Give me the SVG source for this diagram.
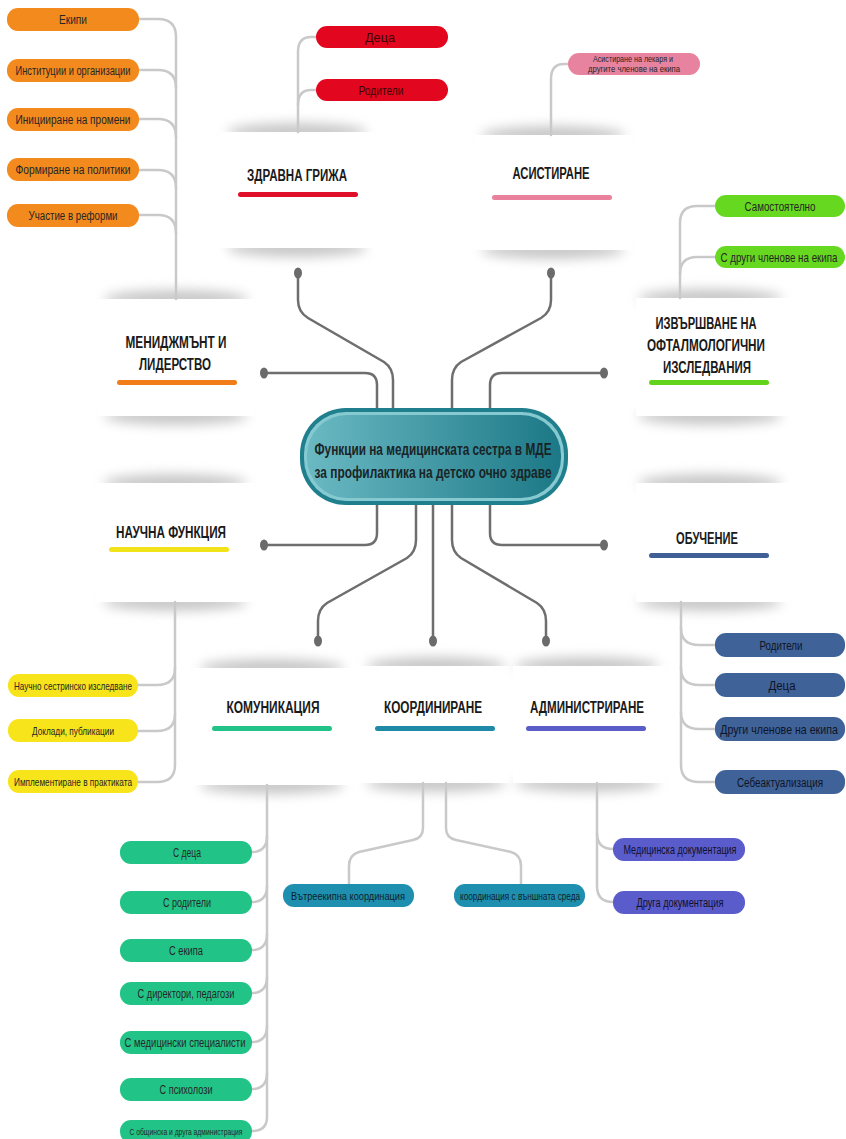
<svg xmlns="http://www.w3.org/2000/svg" width="846" height="1139" viewBox="0 0 846 1139">
<defs>
<style>
.pt{font-family:"Liberation Sans",Arial,sans-serif;font-size:12.5px;fill:#262626;text-anchor:middle}
.ps{font-family:"Liberation Sans",Arial,sans-serif;font-size:9px;fill:#262626;text-anchor:middle}
.tt{font-family:"Liberation Sans",Arial,sans-serif;font-size:16px;font-weight:bold;fill:#1a1a1a;text-anchor:middle}
.ct{font-family:"Liberation Sans",Arial,sans-serif;font-size:17px;font-weight:bold;fill:#1a2426;text-anchor:middle}
.card{fill:#ffffff}
.shade{fill:#9a9a9a;opacity:.55;filter:url(#blur)}
.leaf{fill:none;stroke:#c9c9c9;stroke-width:2.5;stroke-linecap:round}
.main{fill:none;stroke:#6e6e6e;stroke-width:2.5;stroke-linecap:round}
.dot{fill:#6b6b6b}
</style>
<filter id="blur" x="-20%" y="-100%" width="140%" height="300%"><feGaussianBlur stdDeviation="6"/></filter>
<linearGradient id="cg" x1="0" y1="0" x2="1" y2="0">
<stop offset="0" stop-color="#6ab9c3"/>
<stop offset="1" stop-color="#1c7886"/>
</linearGradient>
</defs>
<rect width="846" height="1139" fill="#ffffff"/>

<!-- category cards -->
<g id="n-zdravna">
<ellipse class="shade" cx="297" cy="132" rx="70" ry="9"/>
<ellipse class="shade" cx="297" cy="248" rx="70" ry="9"/>
<rect class="card" x="220" y="132" width="155" height="116"/>
<text class="tt" x="297" y="181" textLength="100" lengthAdjust="spacingAndGlyphs">ЗДРАВНА ГРИЖА</text>
<rect x="238" y="192" width="120" height="5" rx="2.5" fill="#e0102a"/>
</g>
<g id="n-asist">
<ellipse class="shade" cx="553" cy="135" rx="72" ry="9"/>
<ellipse class="shade" cx="553" cy="250" rx="72" ry="9"/>
<rect class="card" x="474" y="135" width="158" height="115"/>
<text class="tt" x="551" y="179" textLength="77" lengthAdjust="spacingAndGlyphs">АСИСТИРАНЕ</text>
<rect x="492" y="195" width="120" height="5" rx="2.5" fill="#e9809c"/>
</g>
<g id="n-menidzh">
<ellipse class="shade" cx="176" cy="299" rx="72" ry="9"/>
<ellipse class="shade" cx="176" cy="416" rx="72" ry="9"/>
<rect class="card" x="98" y="299" width="156" height="117"/>
<text class="tt" x="176" y="348" textLength="101" lengthAdjust="spacingAndGlyphs">МЕНИДЖМЪНТ И</text>
<text class="tt" x="175" y="370" textLength="72" lengthAdjust="spacingAndGlyphs">ЛИДЕРСТВО</text>
<rect x="117" y="380" width="120" height="5" rx="2.5" fill="#f07d1a"/>
</g>
<g id="n-izvarsh">
<ellipse class="shade" cx="710" cy="298" rx="72" ry="9"/>
<ellipse class="shade" cx="710" cy="416" rx="72" ry="9"/>
<rect class="card" x="636" y="298" width="156" height="118"/>
<text class="tt" x="706" y="329" textLength="101" lengthAdjust="spacingAndGlyphs">ИЗВЪРШВАНЕ НА</text>
<text class="tt" x="706" y="351" textLength="118" lengthAdjust="spacingAndGlyphs">ОФТАЛМОЛОГИЧНИ</text>
<text class="tt" x="707" y="373" textLength="88" lengthAdjust="spacingAndGlyphs">ИЗСЛЕДВАНИЯ</text>
<rect x="649" y="380" width="120" height="5" rx="2.5" fill="#62d31c"/>
</g>
<g id="n-nauchna">
<ellipse class="shade" cx="175" cy="483" rx="72" ry="9"/>
<ellipse class="shade" cx="175" cy="602" rx="72" ry="9"/>
<rect class="card" x="96" y="483" width="158" height="119"/>
<text class="tt" x="171" y="538" textLength="110" lengthAdjust="spacingAndGlyphs">НАУЧНА ФУНКЦИЯ</text>
<rect x="109" y="547" width="120" height="5" rx="2.5" fill="#f1e21a"/>
</g>
<g id="n-obuchenie">
<ellipse class="shade" cx="710" cy="483" rx="72" ry="9"/>
<ellipse class="shade" cx="710" cy="602" rx="72" ry="9"/>
<rect class="card" x="636" y="483" width="156" height="119"/>
<text class="tt" x="707" y="544" textLength="62" lengthAdjust="spacingAndGlyphs">ОБУЧЕНИЕ</text>
<rect x="649" y="553" width="120" height="5" rx="2.5" fill="#3f5f96"/>
</g>
<g id="n-komun">
<ellipse class="shade" cx="272" cy="668" rx="72" ry="9"/>
<ellipse class="shade" cx="272" cy="785" rx="72" ry="9"/>
<rect class="card" x="193" y="668" width="160" height="117"/>
<text class="tt" x="273" y="713" textLength="93" lengthAdjust="spacingAndGlyphs">КОМУНИКАЦИЯ</text>
<rect x="212" y="726" width="120" height="5" rx="2.5" fill="#22c388"/>
</g>
<g id="n-koord">
<ellipse class="shade" cx="436" cy="666" rx="70" ry="9"/>
<ellipse class="shade" cx="436" cy="783" rx="70" ry="9"/>
<rect class="card" x="353" y="666" width="160" height="117"/>
<text class="tt" x="433" y="713" textLength="98" lengthAdjust="spacingAndGlyphs">КООРДИНИРАНЕ</text>
<rect x="375" y="726" width="120" height="5" rx="2.5" fill="#1e8aa8"/>
</g>
<g id="n-admin">
<ellipse class="shade" cx="587" cy="666" rx="72" ry="9"/>
<ellipse class="shade" cx="587" cy="783" rx="72" ry="9"/>
<rect class="card" x="513" y="666" width="152" height="117"/>
<text class="tt" x="587" y="713" textLength="114" lengthAdjust="spacingAndGlyphs">АДМИНИСТРИРАНЕ</text>
<rect x="526" y="726" width="120" height="5" rx="2.5" fill="#5a5cc8"/>
</g>

<!-- connectors -->
<g id="connectors">
<path class="main" d="M298,273 V300 Q298,312 308,318 L384,362 Q393,368 393,380 V408"/>
<path class="main" d="M551,273 V300 Q551,312 541,318 L461,362 Q452,368 452,380 V408"/>
<path class="main" d="M263,373 H365 Q377,373 377,385 V408"/>
<path class="main" d="M604,373 H502 Q490,373 490,385 V408"/>
<path class="main" d="M263,545 H365 Q377,545 377,533 V505"/>
<path class="main" d="M604,545 H502 Q490,545 490,533 V505"/>
<path class="main" d="M416,505 V540 Q416,552 407,558 L327,603 Q318,609 318,621 V640"/>
<path class="main" d="M433,505 V640"/>
<path class="main" d="M452,505 V540 Q452,552 461,558 L537,603 Q546,609 546,621 V640"/>
<ellipse class="dot" cx="298" cy="273" rx="4" ry="5.5"/>
<ellipse class="dot" cx="551" cy="273" rx="4" ry="5.5"/>
<ellipse class="dot" cx="264" cy="373" rx="4" ry="5.5"/>
<ellipse class="dot" cx="604" cy="373" rx="4" ry="5.5"/>
<ellipse class="dot" cx="264" cy="545" rx="4" ry="5.5"/>
<ellipse class="dot" cx="604" cy="545" rx="4" ry="5.5"/>
<ellipse class="dot" cx="318" cy="641" rx="4" ry="5.5"/>
<ellipse class="dot" cx="433" cy="641" rx="4" ry="5.5"/>
<ellipse class="dot" cx="546" cy="641" rx="4" ry="5.5"/>
<path class="leaf" d="M139,19 H158 Q176,19 176,37 V299"/>
<path class="leaf" d="M139,70 H158 Q176,70 176,88"/>
<path class="leaf" d="M139,119 H158 Q176,119 176,137"/>
<path class="leaf" d="M139,170 H158 Q176,170 176,188"/>
<path class="leaf" d="M139,215 H158 Q176,215 176,233"/>
<path class="leaf" d="M316,37 H311 Q298,37 298,52 V132"/>
<path class="leaf" d="M316,90 H311 Q298,90 298,105"/>
<path class="leaf" d="M568,64 H564 Q551,64 551,79 V135"/>
<path class="leaf" d="M715,206 H697 Q680,206 680,223 V298"/>
<path class="leaf" d="M715,257 H697 Q680,257 680,274"/>
<path class="leaf" d="M138,685 H157 Q175,685 175,668"/>
<path class="leaf" d="M138,731 H157 Q175,731 175,714"/>
<path class="leaf" d="M138,782 H157 Q175,782 175,765 V602"/>
<path class="leaf" d="M715,645 H699 Q681,645 681,628"/>
<path class="leaf" d="M715,685 H699 Q681,685 681,668"/>
<path class="leaf" d="M715,729 H699 Q681,729 681,712"/>
<path class="leaf" d="M715,782 H699 Q681,782 681,765 V602"/>
<path class="leaf" d="M267,785 V1117 Q267,1131 252,1131"/>
<path class="leaf" d="M252,852 Q267,852 267,836"/>
<path class="leaf" d="M252,902 Q267,902 267,886"/>
<path class="leaf" d="M252,950 Q267,950 267,934"/>
<path class="leaf" d="M252,993 Q267,993 267,977"/>
<path class="leaf" d="M252,1042 Q267,1042 267,1026"/>
<path class="leaf" d="M252,1089 Q267,1089 267,1073"/>
<path class="leaf" d="M423,783 V828 Q423,838 413,840 L359,852 Q349,855 349,866 V884"/>
<path class="leaf" d="M446,783 V828 Q446,838 456,840 L511,852 Q521,855 521,866 V884"/>
<path class="leaf" d="M597,783 V886 Q597,902 613,902"/>
<path class="leaf" d="M613,849 Q597,849 597,833"/>
</g>

<!-- center -->
<g id="n-center">
<rect x="300" y="408" width="268" height="97" rx="46" fill="#1f7f8d"/>
<rect x="304" y="412" width="260" height="89" rx="42" fill="#86c9d0"/>
<rect x="307" y="415" width="254" height="83" rx="40" fill="url(#cg)"/>
<text class="ct" x="433" y="455" textLength="237" lengthAdjust="spacingAndGlyphs">Функции на медицинската сестра в МДЕ</text>
<text class="ct" x="433" y="478" textLength="237" lengthAdjust="spacingAndGlyphs">за профилактика на детско очно здраве</text>
</g>

<!-- leaf pills -->
<g id="l-ekipi"><rect x="7" y="8" width="132" height="23" rx="11" fill="#f28a1e"/><text class="pt" x="73" y="24" textLength="28" lengthAdjust="spacingAndGlyphs">Екипи</text></g>
<g id="l-instit"><rect x="7" y="59" width="132" height="23" rx="11" fill="#f28a1e"/><text class="pt" x="73" y="75" textLength="115" lengthAdjust="spacingAndGlyphs">Институции и организации</text></g>
<g id="l-inic"><rect x="7" y="108" width="132" height="23" rx="11" fill="#f28a1e"/><text class="pt" x="73" y="124" textLength="115" lengthAdjust="spacingAndGlyphs">Иницииране на промени</text></g>
<g id="l-form"><rect x="7" y="158" width="132" height="23" rx="11" fill="#f28a1e"/><text class="pt" x="73" y="174" textLength="115" lengthAdjust="spacingAndGlyphs">Формиране на политики</text></g>
<g id="l-uch"><rect x="7" y="204" width="132" height="23" rx="11" fill="#f28a1e"/><text class="pt" x="73" y="220" textLength="89" lengthAdjust="spacingAndGlyphs">Участие в реформи</text></g>

<g id="l-deca1"><rect x="316" y="26" width="132" height="22" rx="11" fill="#e3061f"/><text class="pt" x="380" y="42" style="fill:#3a0505" textLength="30" lengthAdjust="spacingAndGlyphs">Деца</text></g>
<g id="l-rod1"><rect x="316" y="79" width="132" height="22" rx="11" fill="#e3061f"/><text class="pt" x="381" y="95" style="fill:#3a0505" textLength="45" lengthAdjust="spacingAndGlyphs">Родители</text></g>

<g id="l-asist"><rect x="568" y="53" width="132" height="22" rx="11" fill="#e8839f"/><text class="ps" x="633" y="62" textLength="80" lengthAdjust="spacingAndGlyphs">Асистиране на лекаря и</text><text class="ps" x="634" y="71.5" textLength="92" lengthAdjust="spacingAndGlyphs">другите членове на екипа</text></g>

<g id="l-samost"><rect x="715" y="195" width="130" height="22" rx="11" fill="#66d81f"/><text class="pt" x="780" y="211" textLength="71" lengthAdjust="spacingAndGlyphs">Самостоятелно</text></g>
<g id="l-sdrugi"><rect x="715" y="246" width="130" height="22" rx="11" fill="#66d81f"/><text class="pt" transform="translate(779,262) scale(0.78,1)" x="0" y="0" textLength="150" lengthAdjust="spacingAndGlyphs">С други членове на екипа</text></g>

<g id="l-nauchno"><rect x="8" y="674" width="130" height="23" rx="11" fill="#f7e41b"/><text class="pt" x="73" y="690" style="font-size:11.5px" textLength="118" lengthAdjust="spacingAndGlyphs">Научно сестринско изследване</text></g>
<g id="l-doklad"><rect x="8" y="719" width="130" height="23" rx="11" fill="#f7e41b"/><text class="pt" x="73" y="735" style="font-size:11.5px" textLength="82" lengthAdjust="spacingAndGlyphs">Доклади, публикации</text></g>
<g id="l-impl"><rect x="8" y="770" width="130" height="23" rx="11" fill="#f7e41b"/><text class="pt" x="73" y="786" style="font-size:11.5px" textLength="118" lengthAdjust="spacingAndGlyphs">Имплементиране в практиката</text></g>

<g id="l-rod2"><rect x="715" y="633" width="130" height="24" rx="11" fill="#3f6298"/><text class="pt" x="781" y="650" style="fill:#0f1426" textLength="43" lengthAdjust="spacingAndGlyphs">Родители</text></g>
<g id="l-deca2"><rect x="715" y="673" width="130" height="24" rx="11" fill="#3f6298"/><text class="pt" x="782" y="690" style="fill:#0f1426" textLength="27" lengthAdjust="spacingAndGlyphs">Деца</text></g>
<g id="l-drugi2"><rect x="715" y="717" width="130" height="24" rx="11" fill="#3f6298"/><text class="pt" transform="translate(779,734) scale(0.8,1)" x="0" y="0" style="fill:#0f1426" textLength="147" lengthAdjust="spacingAndGlyphs">Други членове на екипа</text></g>
<g id="l-sebe"><rect x="715" y="770" width="130" height="24" rx="11" fill="#3f6298"/><text class="pt" x="780" y="787" style="fill:#0f1426" textLength="86" lengthAdjust="spacingAndGlyphs">Себеактуализация</text></g>

<g id="l-sdeca"><rect x="120" y="841" width="132" height="23" rx="11" fill="#21c486"/><text class="pt" x="187" y="857" textLength="28" lengthAdjust="spacingAndGlyphs">С деца</text></g>
<g id="l-srod"><rect x="120" y="891" width="132" height="23" rx="11" fill="#21c486"/><text class="pt" x="187" y="907" textLength="48" lengthAdjust="spacingAndGlyphs">С родители</text></g>
<g id="l-sekipa"><rect x="120" y="939" width="132" height="23" rx="11" fill="#21c486"/><text class="pt" x="186" y="955" textLength="34" lengthAdjust="spacingAndGlyphs">С екипа</text></g>
<g id="l-sdir"><rect x="120" y="982" width="132" height="23" rx="11" fill="#21c486"/><text class="pt" x="186" y="998" textLength="97" lengthAdjust="spacingAndGlyphs">С директори, педагози</text></g>
<g id="l-smed"><rect x="120" y="1031" width="132" height="23" rx="11" fill="#21c486"/><text class="pt" x="185" y="1047" textLength="121" lengthAdjust="spacingAndGlyphs">С медицински специалисти</text></g>
<g id="l-spsih"><rect x="120" y="1078" width="132" height="23" rx="11" fill="#21c486"/><text class="pt" x="186" y="1094" textLength="53" lengthAdjust="spacingAndGlyphs">С психолози</text></g>
<g id="l-sobsh"><rect x="120" y="1120" width="132" height="23" rx="11" fill="#21c486"/><text class="ps" x="186" y="1135" textLength="113" lengthAdjust="spacingAndGlyphs">С общинска и друга администрация</text></g>

<g id="l-vatr"><rect x="283" y="884" width="131" height="23" rx="11" fill="#1f8fb0"/><text class="pt" x="348" y="900" style="fill:#0d1f2a;font-size:11.5px" textLength="114" lengthAdjust="spacingAndGlyphs">Вътреекипна координация</text></g>
<g id="l-vansh"><rect x="454" y="884" width="131" height="23" rx="11" fill="#1f8fb0"/><text class="pt" x="520" y="900" style="fill:#0d1f2a;font-size:11.5px" textLength="120" lengthAdjust="spacingAndGlyphs">координация с външната среда</text></g>

<g id="l-meddok"><rect x="613" y="838" width="132" height="23" rx="11" fill="#5b5ccc"/><text class="pt" x="680" y="854" style="fill:#10102a" textLength="113" lengthAdjust="spacingAndGlyphs">Медицинска документация</text></g>
<g id="l-drdok"><rect x="613" y="891" width="132" height="23" rx="11" fill="#5b5ccc"/><text class="pt" x="680" y="907" style="fill:#10102a" textLength="87" lengthAdjust="spacingAndGlyphs">Друга документация</text></g>
</svg>
